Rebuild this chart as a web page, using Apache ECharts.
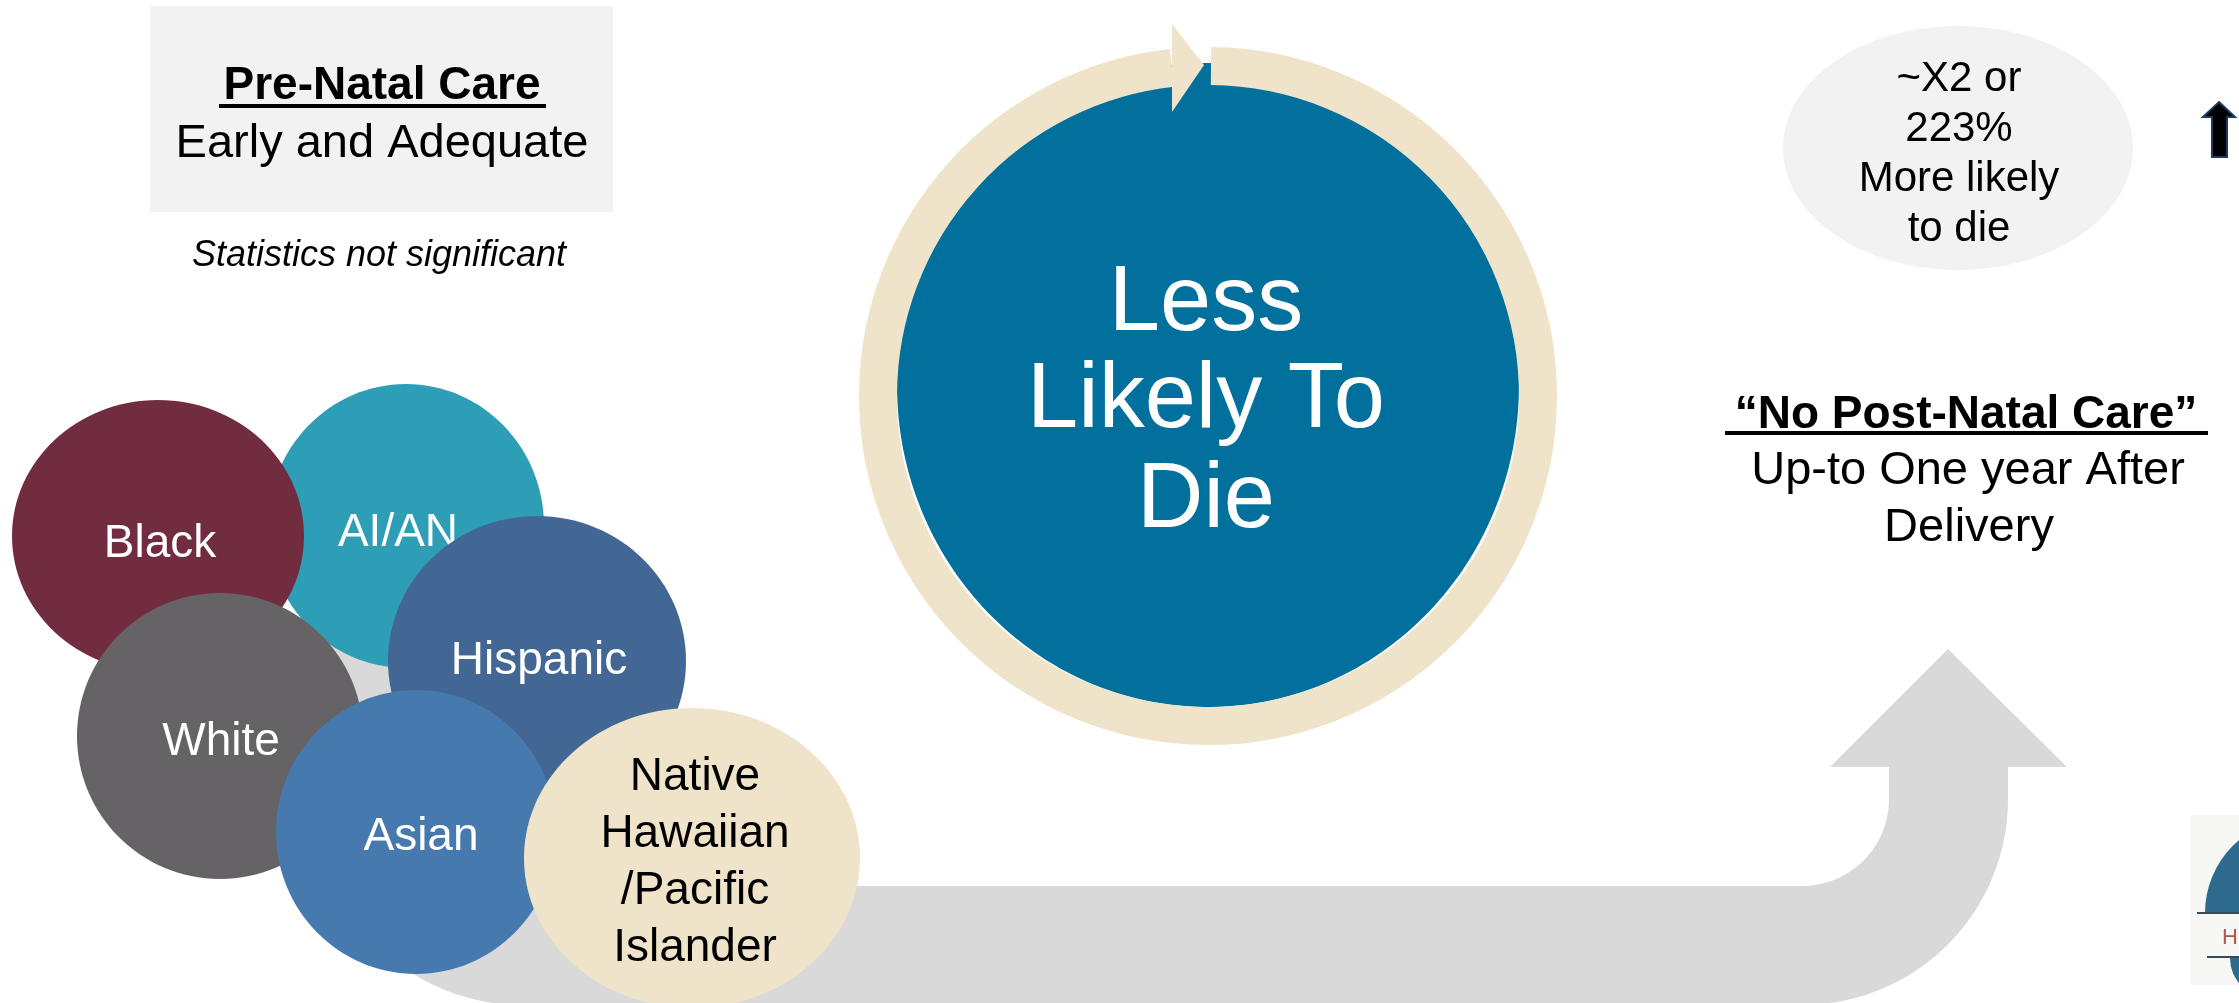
<!DOCTYPE html>
<html>
<head>
<meta charset="utf-8">
<script src="https://cdn.jsdelivr.net/npm/echarts@6/dist/echarts.min.js"></script>
<style>
  html, body { margin: 0; padding: 0; background: #ffffff; }
  #main { width: 2239px; height: 1003px; }
</style>
</head>
<body>
<div id="main"></div>
<script>
// ---- Content ----
const preNatalTitle = 'Pre-Natal Care';
const preNatalSub = 'Early and Adequate';
const preNatalNote = 'Statistics not significant';
const groupNames = ['AI/AN', 'Black', 'Hispanic', 'White', 'Asian', 'Native Hawaiian/Pacific Islander'];
const groupLabelLines = [['AI/AN'], ['Black'], ['Hispanic'], ['White'], ['Asian'], ['Native', 'Hawaiian', '/Pacific', 'Islander']];
const centerLines = ['Less', 'Likely To', 'Die'];
const riskLines = ['~X2 or', '223%', 'More likely', 'to die'];
const postNatalTitle = '\u201CNo Post-Natal Care\u201D';
const postNatalLines = ['Up-to One year After', 'Delivery'];

// ---- Layout & styling ----
const FONT = '"Liberation Sans", Arial, Helvetica, sans-serif';
const groupColors = ['#2e9db6', '#722c3f', '#426795', '#656366', '#467aaf', '#efe3c9'];
const groupTextColors = ['#ffffff', '#ffffff', '#ffffff', '#ffffff', '#ffffff', '#000000'];
const groupShapes = [
  { cx: 406, cy: 526, rx: 138, ry: 142 },
  { cx: 158, cy: 536, rx: 146, ry: 136 },
  { cx: 537, cy: 661, rx: 149, ry: 145 },
  { cx: 220, cy: 736, rx: 143, ry: 143 },
  { cx: 416, cy: 832, rx: 140, ry: 142 },
  { cx: 692, cy: 858, rx: 168, ry: 150 }
];
const groupLabelPos = [
  { x: 398, y: 529 }, { x: 160, y: 540 }, { x: 539, y: 657 },
  { x: 221, y: 738 }, { x: 421, y: 833 }, { x: 695, y: 773 }
];

// Centred text; y is the visual centre of the capitals
function text(str, x, y, size, opts) {
  opts = opts || {};
  const font = (opts.italic ? 'italic ' : '') + (opts.bold ? 'bold ' : '') + size + 'px ' + FONT;
  return {
    type: 'text', x: x, y: y + 0.09 * size, z: opts.z || 20,
    style: {
      text: str, font: font, fill: opts.color || '#000000',
      align: 'center', verticalAlign: 'middle',
      textAlign: 'center', textVerticalAlign: 'middle'
    }
  };
}

function arcPoints(cx, cy, r, a0, a1, n) {
  const pts = [];
  for (let i = 0; i <= n; i++) {
    const a = a0 + (a1 - a0) * i / n;
    pts.push([cx + r * Math.cos(a), cy + r * Math.sin(a)]);
  }
  return pts;
}

// Grey bent arrow running under the group bubbles and turning up on the right
function bentArrow() {
  const lc = [522, 799], rc = [1802, 799], rOut = 206, rIn = 87, top = 600;
  let pts = [];
  pts.push([lc[0] - rOut, top]);
  pts = pts.concat(arcPoints(lc[0], lc[1], rOut, Math.PI, Math.PI / 2, 40));
  pts = pts.concat(arcPoints(rc[0], rc[1], rOut, Math.PI / 2, 0, 40));
  pts.push([rc[0] + rOut, 767]);
  pts.push([2067, 767]);
  pts.push([1948, 649]);
  pts.push([1830, 767]);
  pts.push([rc[0] + rIn, 767]);
  pts = pts.concat(arcPoints(rc[0], rc[1], rIn, 0, Math.PI / 2, 30));
  pts = pts.concat(arcPoints(lc[0], lc[1], rIn, Math.PI / 2, Math.PI, 30));
  pts.push([lc[0] - rIn, top]);
  return { type: 'polygon', z: 1, shape: { points: pts }, style: { fill: '#d9d9d9' } };
}

const elements = [];

// Pre-natal box
elements.push({ type: 'rect', z: 1, shape: { x: 150, y: 6, width: 463, height: 206 }, style: { fill: '#f2f2f2' } });
elements.push(text(preNatalTitle, 382, 82, 46, { bold: true }));
elements.push({ type: 'rect', z: 20, shape: { x: 219, y: 104, width: 327, height: 4 }, style: { fill: '#000000' } });
elements.push(text(preNatalSub, 382, 140, 47));
elements.push(text(preNatalNote, 379, 253, 36, { italic: true }));

// Arrow behind the bubbles
elements.push(bentArrow());

// Group bubbles; each label shares its bubble's layer so later bubbles cover it
groupNames.forEach(function (name, i) {
  const zBase = 2 + 2 * i;
  elements.push({ type: 'ellipse', name: name, z: zBase, shape: groupShapes[i], style: { fill: groupColors[i] } });
  groupLabelLines[i].forEach(function (ln, k) {
    elements.push(text(ln, groupLabelPos[i].x, groupLabelPos[i].y + k * 57, 46, { color: groupTextColors[i], z: zBase + 1 }));
  });
});

// Central circle with circular arrow
const ringC = [1208, 396], ringR = 330, ringW = 38;
elements.push({ type: 'ellipse', z: 2, shape: { cx: 1208, cy: 385, rx: 311, ry: 322 }, style: { fill: '#01709d' } });
elements.push({
  type: 'arc', z: 3,
  shape: {
    cx: ringC[0], cy: ringC[1], r: ringR,
    startAngle: -Math.PI / 2 + Math.asin(3 / ringR),
    endAngle: -Math.PI / 2 - Math.asin(36 / ringR) + 2 * Math.PI,
    clockwise: true
  },
  style: { stroke: '#efe4ca', lineWidth: ringW, fill: null, lineCap: 'butt' }
});
elements.push({ type: 'polygon', z: 3, shape: { points: [[1172, 24], [1204, 65], [1172, 112]] }, style: { fill: '#efe4ca' } });
const centerY = [296, 393, 493];
centerLines.forEach(function (ln, k) {
  elements.push(text(ln, 1206, centerY[k], 92, { color: '#ffffff' }));
});

// Risk ellipse
elements.push({ type: 'ellipse', z: 1, shape: { cx: 1958, cy: 148, rx: 175, ry: 122 }, style: { fill: '#f2f2f2' } });
riskLines.forEach(function (ln, k) {
  elements.push(text(ln, 1959, 76 + k * 50, 42));
});

// Small up arrow
elements.push({
  type: 'polygon', z: 5,
  shape: { points: [[2219, 102], [2235, 117], [2227, 117], [2227, 157], [2212, 157], [2212, 117], [2203, 117]] },
  style: { fill: '#000000', stroke: '#1f3a5a', lineWidth: 2 }
});

// Post-natal text
elements.push(text(postNatalTitle, 1966, 411, 46, { bold: true }));
elements.push({ type: 'rect', z: 20, shape: { x: 1725, y: 431, width: 483, height: 4 }, style: { fill: '#000000' } });
elements.push(text(postNatalLines[0], 1968, 467, 47));
elements.push(text(postNatalLines[1], 1969, 524, 47));

// Emblem at the lower right edge
elements.push({ type: 'rect', z: 1, shape: { x: 2190, y: 815, width: 49, height: 170 }, style: { fill: '#f7f7f5' } });
elements.push({ type: 'sector', z: 2, shape: { cx: 2300, cy: 913, r0: 0, r: 95, startAngle: Math.PI, endAngle: 2 * Math.PI, clockwise: true }, style: { fill: '#2e6a8e' } });
elements.push({ type: 'rect', z: 3, shape: { x: 2197, y: 912, width: 42, height: 2 }, style: { fill: '#3a4a5a' } });
elements.push(text('H', 2230, 936, 22, { color: '#b0574a', z: 4 }));
elements.push({ type: 'rect', z: 3, shape: { x: 2207, y: 956, width: 32, height: 2 }, style: { fill: '#3a4a5a' } });
elements.push({ type: 'sector', z: 2, shape: { cx: 2270, cy: 958, r0: 0, r: 40, startAngle: 0, endAngle: Math.PI, clockwise: true }, style: { fill: '#2e6a8e' } });

const chart = echarts.init(document.getElementById('main'), null, { renderer: 'canvas' });
chart.setOption({
  backgroundColor: '#ffffff',
  animation: false,
  graphic: { elements: elements }
});
</script>
</body>
</html>
